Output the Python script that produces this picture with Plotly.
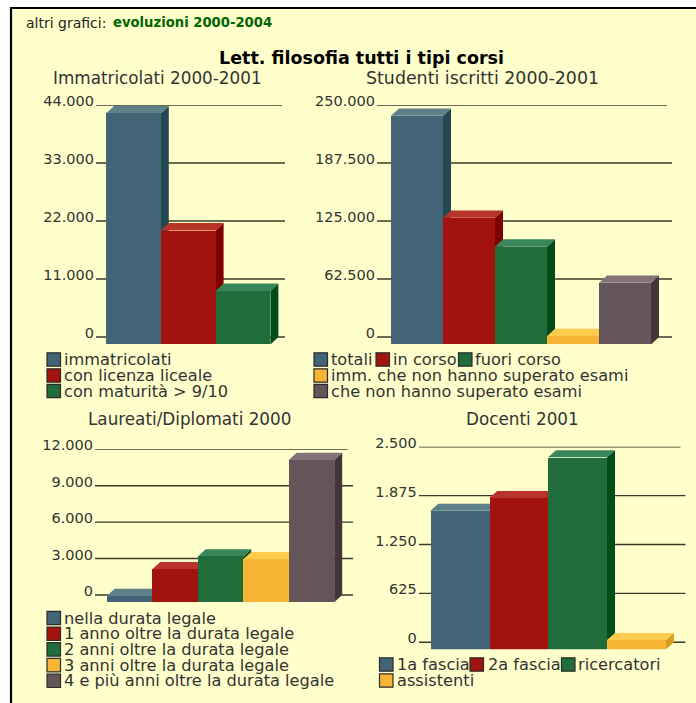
import plotly.graph_objects as go

# ---- data ----
title_main = "Lett. filosofia tutti i tipi corsi"

imm_title = "Immatricolati 2000-2001"
imm_labels = ["immatricolati", "con licenza liceale", "con maturità > 9/10"]
imm_values = [43800, 21600, 10150]
imm_ticks = [0, 11000, 22000, 33000, 44000]
imm_ticktext = ["0", "11.000", "22.000", "33.000", "44.000"]

stu_title = "Studenti iscritti 2000-2001"
stu_labels = ["totali", "in corso", "fuori corso", "imm. che non hanno superato esami", "che non hanno superato esami"]
stu_values = [246300, 136400, 105200, 8900, 66400]
stu_ticks = [0, 62500, 125000, 187500, 250000]
stu_ticktext = ["0", "62.500", "125.000", "187.500", "250.000"]

lau_title = "Laureati/Diplomati 2000"
lau_labels = ["nella durata legale", "1 anno oltre la durata legale", "2 anni oltre la durata legale",
              "3 anni oltre la durata legale", "4 e più anni oltre la durata legale"]
lau_values = [520, 2720, 3760, 3540, 11720]
lau_ticks = [0, 3000, 6000, 9000, 12000]
lau_ticktext = ["0", "3.000", "6.000", "9.000", "12.000"]

doc_title = "Docenti 2001"
doc_labels = ["1a fascia", "2a fascia", "ricercatori", "assistenti"]
doc_values = [1771, 1934, 2454, 119]
doc_ticks = [0, 625, 1250, 1875, 2500]
doc_ticktext = ["0", "625", "1.250", "1.875", "2.500"]

# ---- style ----
W, H = 696, 703
BG = "#ffffcc"
INK = "#333333"
FONT = "DejaVu Sans"
BLUE = ("#436476", "#5d8089", "#234a52")
RED = ("#a2130f", "#b83428", "#7d0000")
GREEN = ("#206c3b", "#39865a", "#004d18")
YELLOW = ("#f6b534", "#fecc4c", "#d99b1a")
MAUVE = ("#64555b", "#847478", "#43353a")

shapes, annotations = [], []


def px(x):
    return x / W


def py(y):
    return 1 - y / H


def text(s, x, y, size=16.2, color=INK, xanchor="left", bold=False):
    annotations.append(dict(text=f"<b>{s}</b>" if bold else s, x=px(x), y=py(y), xref="paper", yref="paper",
                            showarrow=False, xanchor=xanchor, yanchor="middle", borderpad=0, borderwidth=0,
                            font=dict(family=FONT, size=size, color=color)))


def swatch(x, y, color):
    shapes.append(dict(type="rect", xref="paper", yref="paper", x0=px(x), x1=px(x + 13.5), y0=py(y - 6.7), y1=py(y + 6.7),
                       fillcolor=color, line=dict(color="#2a2a2a", width=1.2), layer="above"))


fig = go.Figure()


def chart(n, values, labels, colors, ticks, ticktext, left, right, top_right, first_bar, bar_w, y_top, y_zero, y_base):
    sx = "" if n == 1 else str(n)
    xname, yname = "x" + sx, "y" + sx
    scale = ticks[-1] / (y_zero - y_top)      # value units per pixel
    depth_y = (y_base - y_zero) * scale
    depth_x = 8 / bar_w
    to_x = lambda p: (p - first_bar) / bar_w - 0.5
    # gridlines on the rear wall
    for t in ticks:
        end = top_right if t == ticks[-1] else right
        shapes.append(dict(type="line", xref=xname, yref=yname, x0=to_x(left), x1=to_x(end), y0=t, y1=t,
                           line=dict(color="#3a3a2a", width=1.4), layer="below"))
    # side and top faces of each bar, painted left to right beneath the front faces
    for i, v in enumerate(values):
        f = v - depth_y
        r = i + 0.5
        l = i - 0.5
        side = f"M {r} {-depth_y} L {r + depth_x} 0 L {r + depth_x} {v} L {r} {f} Z"
        topf = f"M {l} {f} L {l + depth_x} {v} L {r + depth_x} {v} L {r} {f} Z"
        shapes.append(dict(type="path", xref=xname, yref=yname, path=side, fillcolor=colors[i][2],
                           line=dict(width=0), layer="below"))
        shapes.append(dict(type="path", xref=xname, yref=yname, path=topf, fillcolor=colors[i][1],
                           line=dict(width=0), layer="below"))
    fig.add_trace(go.Bar(x=list(range(len(values))), y=values, base=-depth_y, width=1,
                         marker=dict(color=[c[0] for c in colors], line=dict(width=0)),
                         hovertext=labels, hoverinfo="text+y", showlegend=False, xaxis=xname, yaxis=yname))
    xkey = "xaxis" + sx
    ykey = "yaxis" + sx
    fig.update_layout(**{
        xkey: dict(domain=[px(left), px(right)], range=[to_x(left), to_x(right)], visible=False, anchor=yname,
                   fixedrange=True, automargin=False),
        ykey: dict(domain=[py(y_base), py(y_top)], range=[-depth_y, ticks[-1]], anchor=xname, tickmode="array",
                   tickvals=ticks, ticktext=ticktext, showgrid=False, zeroline=False, showline=False, ticks="",
                   ticklabelstandoff=1, ticklabelshift=-4, fixedrange=True, automargin=False,
                   tickfont=dict(family=FONT, size=14.5, color=INK)),
    })


chart(1, imm_values, imm_labels, [BLUE, RED, GREEN], imm_ticks, imm_ticktext,
      96, 285, 282, 106, 54.8, 105, 337, 344.4)
chart(2, stu_values, stu_labels, [BLUE, RED, GREEN, YELLOW, MAUVE], stu_ticks, stu_ticktext,
      377, 672, 667, 391, 52, 105, 337, 344.4)
chart(3, lau_values, lau_labels, [BLUE, RED, GREEN, YELLOW, MAUVE], lau_ticks, lau_ticktext,
      95, 353, 347.5, 106.7, 45.5, 449.3, 595, 602.3)
chart(4, doc_values, doc_labels, [BLUE, RED, GREEN, YELLOW], doc_ticks, doc_ticktext,
      418.7, 685.7, 680.5, 430.3, 58.9, 446.7, 642.3, 649.3)

# frame
shapes.insert(0, dict(type="rect", xref="paper", yref="paper", x0=px(11), x1=px(W + 5), y0=py(8), y1=py(H + 5),
                      fillcolor=BG, line=dict(color="#000000", width=2.2), layer="below"))

# header and titles
text("altri grafici:", 26, 23, size=14, color="#222222")
text("evoluzioni 2000-2004", 113, 23, size=13.2, color="#006600", bold=True)
text(title_main, 362, 58, size=17.5, color="#000000", xanchor="center", bold=True)
text(imm_title, 157, 78, size=16.8, xanchor="center")
text(stu_title, 482.5, 78, size=17.4, xanchor="center")
text(lau_title, 189.5, 419.5, size=16.8, xanchor="center")
text(doc_title, 522, 419.5, size=16.8, xanchor="center")

# legends
def legend_row(items, y):
    for label, color, sx, tx in items:
        swatch(sx, y, color)
        text(label, tx, y)


legend_row([(imm_labels[0], BLUE[0], 47, 64)], 359.5)
legend_row([(imm_labels[1], RED[0], 47, 64)], 375.5)
legend_row([(imm_labels[2], GREEN[0], 47, 64)], 391)

legend_row([(stu_labels[0], BLUE[0], 314, 331), (stu_labels[1], RED[0], 376, 393), (stu_labels[2], GREEN[0], 458.5, 475)], 359.5)
legend_row([(stu_labels[3], YELLOW[0], 314, 331)], 375.5)
legend_row([(stu_labels[4], MAUVE[0], 314, 331)], 391)

for i, y in enumerate([618, 633.7, 649.4, 665.1, 680.8]):
    legend_row([(lau_labels[i], [BLUE, RED, GREEN, YELLOW, MAUVE][i][0], 47, 64)], y)

legend_row([(doc_labels[0], BLUE[0], 379.5, 397), (doc_labels[1], RED[0], 470, 487.5), (doc_labels[2], GREEN[0], 561.5, 578)], 664.5)
legend_row([(doc_labels[3], YELLOW[0], 379.5, 397)], 680.5)

fig.update_layout(width=W, height=H, margin=dict(l=0, r=0, t=0, b=0, pad=0), paper_bgcolor="#ffffff",
                  plot_bgcolor="rgba(0,0,0,0)", bargap=0, showlegend=False, shapes=shapes, annotations=annotations,
                  font=dict(family=FONT, color=INK))

fig.write_html("out.html", config={"displayModeBar": False},
               post_script="document.body.style.margin='0';document.documentElement.style.overflow='hidden';")
